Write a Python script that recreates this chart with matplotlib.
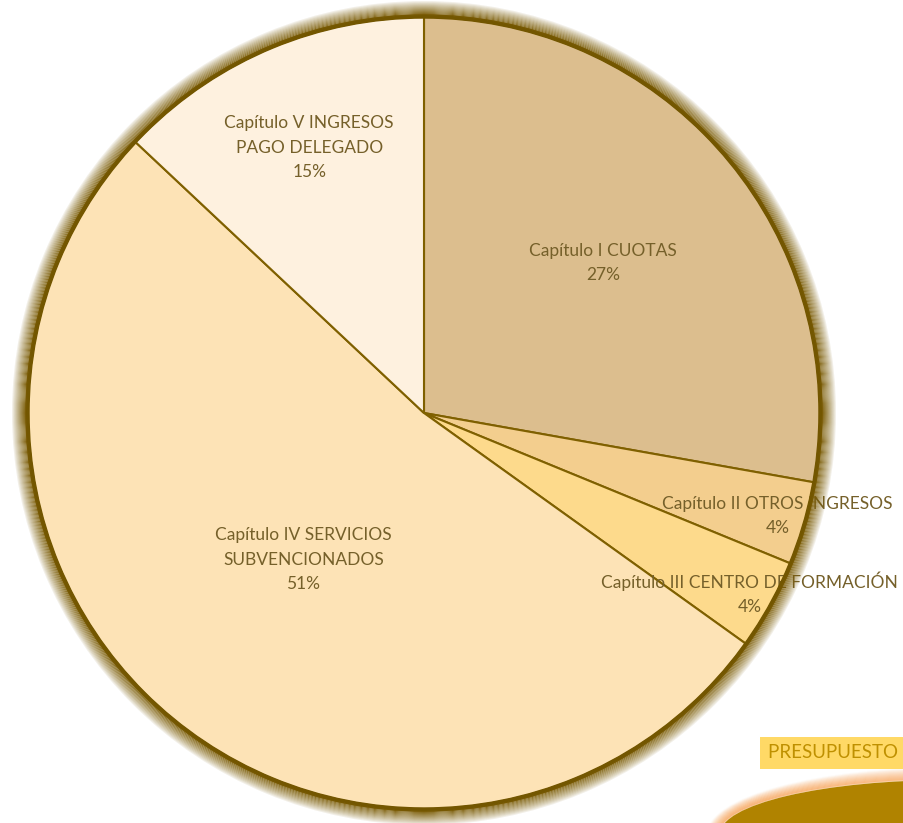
import numpy as np
import matplotlib
matplotlib.use('Agg')
import matplotlib.pyplot as plt
from matplotlib.patches import Wedge, Ellipse

plt.rcParams['font.family'] = ['Lato', 'DejaVu Sans']

# Datos (porcentaje de cada capítulo)
capitulos = ["Capítulo I CUOTAS", "Capítulo II OTROS INGRESOS",
             "Capítulo III CENTRO DE FORMACIÓN",
             "Capítulo IV SERVICIOS\nSUBVENCIONADOS",
             "Capítulo V INGRESOS\nPAGO DELEGADO"]
valores = [27.8, 3.4, 3.7, 52.1, 13.0]
etiquetas_pct = ["27%", "4%", "4%", "51%", "15%"]
colores = ['#DCBE8E', '#F3CE8E', '#FDDA8C', '#FDE3B6', '#FEF1DF']
dist_etiqueta = [0.59, 0.93, 0.94, 0.48, 0.73]

W, H = 904, 823
fig = plt.figure(figsize=(W / 100, H / 100), dpi=100)
ax = fig.add_axes([0, 0, 1, 1])

cx, cy, r = 424, H - 413, 396
wedges, _ = ax.pie(valores, colors=colores, startangle=90, counterclock=False,
                   center=(cx, cy), radius=r,
                   wedgeprops=dict(edgecolor='#7F6000', linewidth=1.5))

# etiquetas
for w, cap, pct, d in zip(wedges, capitulos, etiquetas_pct, dist_etiqueta):
    ang = np.deg2rad((w.theta1 + w.theta2) / 2)
    x = cx + d * r * np.cos(ang)
    y = cy + d * r * np.sin(ang)
    ax.text(x, y, cap + "\n" + pct, ha='center', va='center', fontsize=12.5,
            color='#75602A', linespacing=1.65, zorder=5)

# borde oscuro con resplandor
ax.add_patch(Wedge((cx, cy), r + 2, 0, 360, width=3, color='#735600', zorder=8))
n = 14
for i in range(n):
    a = 0.95 * (1 - i / n) ** 0.9
    ax.add_patch(Wedge((cx, cy), r + 2 + i + 1, 0, 360, width=1,
                       color='#7A5B04', alpha=a, linewidth=0, zorder=8))

# decoración inferior derecha
ex, ey = 950, H - 834
for i in range(12):
    a = 0.55 * (1 - i / 12)
    ax.add_patch(Ellipse((ex, ey), 2 * 230 + 2 * (i + 1), 2 * 54 + 2 * (i + 1),
                         facecolor='none', edgecolor='#F8A65E', alpha=a,
                         linewidth=1.4, zorder=2))
ax.add_patch(Ellipse((ex, ey), 2 * 230, 2 * 54, facecolor='#B08300',
                     edgecolor='none', zorder=3))

ax.text(768, H - 753, "PRESUPUESTO I", ha='left', va='center',
        fontsize=13.5, color='#BF9000', zorder=6,
        bbox=dict(boxstyle='square,pad=0.4', facecolor='#FFD966', edgecolor='none'))

ax.set_xlim(0, W)
ax.set_ylim(0, H)
ax.set_aspect('equal')
ax.axis('off')

fig.savefig('out.png', dpi=100, facecolor='white')
